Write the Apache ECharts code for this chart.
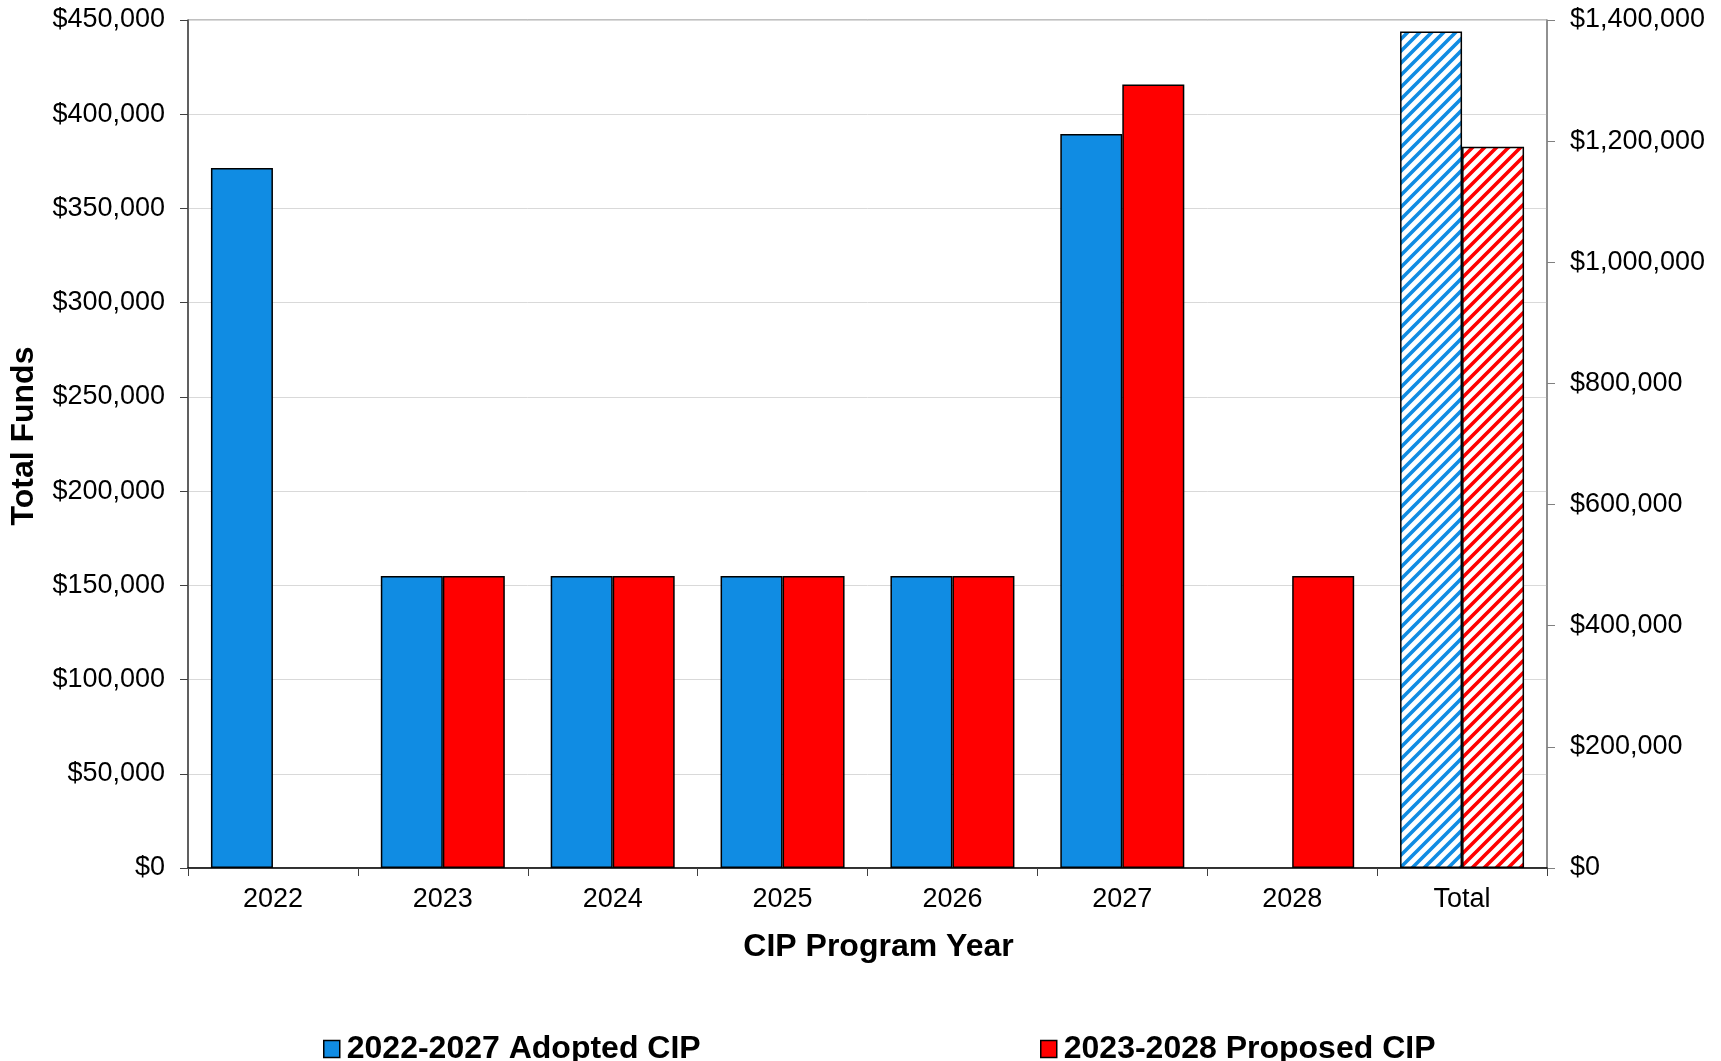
<!DOCTYPE html>
<html>
<head>
<meta charset="utf-8">
<title>CIP Program Year Funding</title>
<script src="https://cdn.jsdelivr.net/npm/echarts@6/dist/echarts.min.js"></script>
<style>
  html, body { margin: 0; padding: 0; background: #ffffff; }
  #chart { width: 1721px; height: 1061px; }
</style>
</head>
<body>
<div id="chart"></div>
<script>
// Program years plus the summary column
const categories = ['2022', '2023', '2024', '2025', '2026', '2027', '2028', 'Total'];

// Yearly funds (left axis)
const adoptedByYear  = [371500, 155000, 155000, 155000, 155000, 389500, null, null];
const proposedByYear = [null, 155000, 155000, 155000, 155000, 415800, 155000, null];

// Program totals (right axis)
const adoptedTotal  = [null, null, null, null, null, null, null, 1381000];
const proposedTotal = [null, null, null, null, null, null, null, 1190800];

// Axis ranges
const leftMax = 450000, leftStep = 50000;
const rightMax = 1400000, rightStep = 200000;

const ADOPTED = '2022-2027 Adopted CIP';
const PROPOSED = '2023-2028 Proposed CIP';
const BLUE = '#108CE3';
const RED = '#FF0000';
const FONT = '"Liberation Sans", Arial, sans-serif';

// Diagonal stripe fill used by the total columns
function stripes(color) {
  const size = 12;
  const c = document.createElement('canvas');
  c.width = size; c.height = size;
  const ctx = c.getContext('2d');
  ctx.fillStyle = '#ffffff';
  ctx.fillRect(0, 0, size, size);
  ctx.strokeStyle = color;
  ctx.lineWidth = 3.6;
  ctx.lineCap = 'square';
  ctx.beginPath();
  ctx.moveTo(-2, size + 2); ctx.lineTo(size + 2, -2);
  ctx.moveTo(-2, 2); ctx.lineTo(2, -2);
  ctx.moveTo(size - 2, size + 2); ctx.lineTo(size + 2, size - 2);
  ctx.stroke();
  return { image: c, repeat: 'repeat' };
}

const money = v => '$' + Number(v).toLocaleString('en-US');

const barBorder = { borderColor: '#000000', borderWidth: 1.5 };

const legendText = { fontFamily: FONT, fontSize: 32, fontWeight: 'bold', color: '#000', padding: [0, 0, 0, 2] };
const legendCommon = {
  top: 1033, padding: 0, icon: 'rect', itemWidth: 16, itemHeight: 17, itemGap: 0,
  itemStyle: { borderColor: '#000000', borderWidth: 1.5 },
  textStyle: legendText, selectedMode: false
};

const chart = echarts.init(document.getElementById('chart'), null, { renderer: 'canvas' });

chart.setOption({
  animation: false,
  backgroundColor: '#ffffff',
  textStyle: { fontFamily: FONT },
  grid: {
    left: 188, right: 174, top: 20, bottom: 193,
    show: true, borderColor: '#808080', borderWidth: 1
  },
  legend: [
    Object.assign({ data: [ADOPTED], left: 323 }, legendCommon),
    Object.assign({ data: [PROPOSED], left: 1040 }, legendCommon)
  ],
  xAxis: [
    {
      type: 'category',
      data: categories,
      name: 'CIP Program Year',
      nameLocation: 'middle',
      nameGap: 63,
      nameTextStyle: { fontFamily: FONT, fontSize: 32, fontWeight: 'bold', color: '#000', padding: [0, 0, 0, 22] },
      axisLine: { lineStyle: { color: '#000000', width: 1.5 } },
      axisTick: { show: true, alignWithLabel: false, length: 8, lineStyle: { color: '#404040' } },
      axisLabel: { fontFamily: FONT, fontSize: 27, color: '#000', margin: 18 }
    },
    {
      type: 'category',
      data: categories,
      show: false
    }
  ],
  yAxis: [
    {
      type: 'value',
      min: 0, max: leftMax, interval: leftStep,
      name: 'Total Funds',
      nameLocation: 'middle',
      nameGap: 148,
      nameRotate: 90,
      nameTextStyle: { fontFamily: FONT, fontSize: 32, fontWeight: 'bold', color: '#000', padding: [0, 0, 0, 16] },
      axisLine: { show: true, lineStyle: { color: '#404040', width: 1.5 } },
      axisTick: { show: true, length: 8, lineStyle: { color: '#404040' } },
      axisLabel: { fontFamily: FONT, fontSize: 27, color: '#000', margin: 23, formatter: money },
      splitLine: { show: true, lineStyle: { color: '#D9D9D9', width: 1 } }
    },
    {
      type: 'value',
      min: 0, max: rightMax, interval: rightStep,
      position: 'right',
      axisLine: { show: true, lineStyle: { color: '#808080', width: 1.5 } },
      axisTick: { show: true, length: 8, lineStyle: { color: '#808080' } },
      axisLabel: { fontFamily: FONT, fontSize: 27, color: '#000', margin: 23, formatter: money },
      splitLine: { show: false }
    }
  ],
  series: [
    {
      name: ADOPTED, type: 'bar', xAxisIndex: 0, yAxisIndex: 0,
      data: adoptedByYear, barWidth: 62, barGap: '0%',
      itemStyle: Object.assign({ color: BLUE }, barBorder)
    },
    {
      name: PROPOSED, type: 'bar', xAxisIndex: 0, yAxisIndex: 0,
      data: proposedByYear, barWidth: 62, barGap: '0%',
      itemStyle: Object.assign({ color: RED }, barBorder)
    },
    {
      name: ADOPTED, type: 'bar', xAxisIndex: 1, yAxisIndex: 1,
      data: adoptedTotal, barWidth: 62, barGap: '0%',
      itemStyle: Object.assign({ color: stripes(BLUE) }, barBorder)
    },
    {
      name: PROPOSED, type: 'bar', xAxisIndex: 1, yAxisIndex: 1,
      data: proposedTotal, barWidth: 62, barGap: '0%',
      itemStyle: Object.assign({ color: stripes(RED) }, barBorder)
    }
  ]
});
</script>
</body>
</html>
